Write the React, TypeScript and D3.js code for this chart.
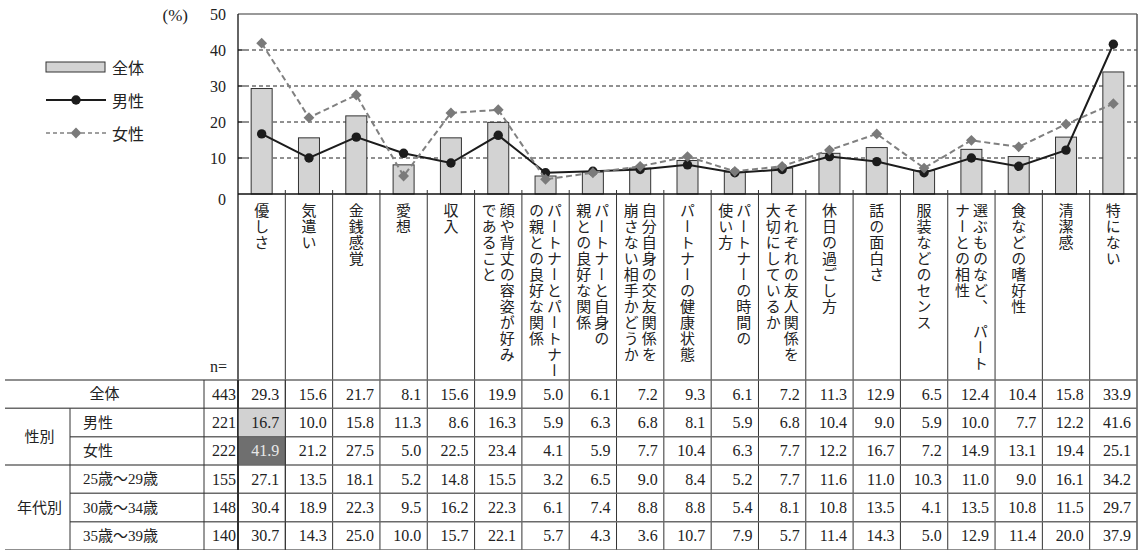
import React from 'react';
import * as d3 from 'd3';

const categories = [
  '優しさ', '気遣い', '金銭感覚', '愛想', '収入', '顔や背丈の容姿が好みであること',
  'パートナーとパートナーの親との良好な関係', 'パートナーと自身の親との良好な関係',
  '自分自身の交友関係を崩さない相手かどうか', 'パートナーの健康状態', 'パートナーの時間の使い方',
  'それぞれの友人関係を大切にしているか', '休日の過ごし方', '話の面白さ', '服装などのセンス',
  '選ぶものなど、パートナーとの相性', '食などの嗜好性', '清潔感', '特にない',
];

const categoryLines: string[][] = [
  ['優しさ'], ['気遣い'], ['金銭感覚'], ['愛想'], ['収入'],
  ['顔や背丈の容姿が好み', 'であること'],
  ['パートナーとパートナー', 'の親との良好な関係'],
  ['パートナーと自身の', '親との良好な関係'],
  ['自分自身の交友関係を', '崩さない相手かどうか'],
  ['パートナーの健康状態'],
  ['パートナーの時間の', '使い方'],
  ['それぞれの友人関係を', '大切にしているか'],
  ['休日の過ごし方'], ['話の面白さ'], ['服装などのセンス'],
  ['選ぶものなど、\u2002パート', 'ナーとの相性'],
  ['食などの嗜好性'], ['清潔感'], ['特にない'],
];

const allValues = [29.3, 15.6, 21.7, 8.1, 15.6, 19.9, 5.0, 6.1, 7.2, 9.3, 6.1, 7.2, 11.3, 12.9, 6.5, 12.4, 10.4, 15.8, 33.9];
const maleValues = [16.7, 10.0, 15.8, 11.3, 8.6, 16.3, 5.9, 6.3, 6.8, 8.1, 5.9, 6.8, 10.4, 9.0, 5.9, 10.0, 7.7, 12.2, 41.6];
const femaleValues = [41.9, 21.2, 27.5, 5.0, 22.5, 23.4, 4.1, 5.9, 7.7, 10.4, 6.3, 7.7, 12.2, 16.7, 7.2, 14.9, 13.1, 19.4, 25.1];
const age2529Values = [27.1, 13.5, 18.1, 5.2, 14.8, 15.5, 3.2, 6.5, 9.0, 8.4, 5.2, 7.7, 11.6, 11.0, 10.3, 11.0, 9.0, 16.1, 34.2];
const age3034Values = [30.4, 18.9, 22.3, 9.5, 16.2, 22.3, 6.1, 7.4, 8.8, 8.8, 5.4, 8.1, 10.8, 13.5, 4.1, 13.5, 10.8, 11.5, 29.7];
const age3539Values = [30.7, 14.3, 25.0, 10.0, 15.7, 22.1, 5.7, 4.3, 3.6, 10.7, 7.9, 5.7, 11.4, 14.3, 5.0, 12.9, 11.4, 20.0, 37.9];

const rowLabels = ['全体', '男性', '女性', '25歳～29歳', '30歳～34歳', '35歳～39歳'];
const rowN = [443, 221, 222, 155, 148, 140];
const groupLabels = [
  { label: '性別', from: 1, to: 2 },
  { label: '年代別', from: 3, to: 5 },
];
const yTicks = [0, 10, 20, 30, 40, 50];
const legendLabels = ['全体', '男性', '女性'];

const W = 1141;
const H = 550;
const plotL = 238;
const plotR = 1137;
const plotT = 14;
const plotB = 194;
const tableT = 380;
const rowH = 28.34;
const tableL = 5;
const groupColR = 70;
const labelColR = 204;

const serif = "'Liberation Serif','Noto Sans CJK JP',serif";
const cjk = "'Noto Sans CJK JP',sans-serif";
const ink = '#222';

export default function App() {
  const x = d3.scaleBand<string>().domain(categories).range([plotL, plotR]).paddingInner(0).paddingOuter(0);
  const y = d3.scaleLinear().domain([0, 50]).range([plotB, plotT]);
  const bw = x.bandwidth();
  const cx = (i: number) => (x(categories[i]) as number) + bw / 2;
  const barW = 21;

  const line = d3.line<number>().x((_, i) => cx(i)).y((d) => y(d));

  const tableRows = [allValues, maleValues, femaleValues, age2529Values, age3034Values, age3539Values];
  const rowTop = (r: number) => tableT + r * rowH;

  const diamond = (px: number, py: number, s: number) =>
    `M${px},${py - s}L${px + s},${py}L${px},${py + s}L${px - s},${py}Z`;

  return (
    <svg width={W} height={H} style={{ position: 'absolute', left: 0, top: 0, background: '#fff' }}>
      <rect x={0} y={0} width={W} height={H} fill="#fff" />

      {/* unit label */}
      <text x={188} y={15} textAnchor="end" dominantBaseline="central" fontFamily={serif} fontSize={17} fill={ink}>(%)</text>

      {/* y-axis tick labels */}
      {yTicks.map((t) => (
        <text key={t} x={226} y={y(t) + (t === 0 ? 5 : 0)} textAnchor="end" dominantBaseline="central"
          fontFamily={serif} fontSize={16} fill={ink}>{t}</text>
      ))}

      {/* gridlines */}
      {yTicks.filter((t) => t > 0 && t < 50).map((t) => (
        <g key={t}>
          <line x1={plotL} x2={plotR} y1={y(t)} y2={y(t)} stroke="#222" strokeWidth={1} strokeDasharray="4,3" />
          <line x1={plotL} x2={plotL + 7} y1={y(t)} y2={y(t)} stroke="#222" strokeWidth={1} />
        </g>
      ))}

      {/* frame top */}
      <line x1={plotL} x2={plotR} y1={plotT} y2={plotT} stroke="#777" strokeWidth={1.5} />

      {/* bars */}
      {allValues.map((v, i) => (
        <rect key={i} x={cx(i) - barW / 2} y={y(v)} width={barW} height={y(0) - y(v)}
          fill="#d3d3d3" stroke="#333" strokeWidth={1} />
      ))}

      {/* male line */}
      <path d={line(maleValues) as string} fill="none" stroke="#1c1c1c" strokeWidth={2} />
      {maleValues.map((v, i) => (
        <circle key={i} cx={cx(i)} cy={y(v)} r={4.7} fill="#1c1c1c" />
      ))}

      {/* female line */}
      <path d={line(femaleValues) as string} fill="none" stroke="#808080" strokeWidth={2} strokeDasharray="6,3.5" />
      {femaleValues.map((v, i) => (
        <path key={i} d={diamond(cx(i), y(v), 5.4)} fill="#7a7a7a" />
      ))}

      {/* baseline */}
      <line x1={plotL} x2={plotR} y1={plotB} y2={plotB} stroke="#111" strokeWidth={1.3} />

      {/* column dividers (ticks + header + table) */}
      {categories.slice(1).map((c) => (
        <line key={c} x1={x(c) as number} x2={x(c) as number} y1={plotB - 4} y2={H} stroke="#333" strokeWidth={1} />
      ))}
      <line x1={plotL} x2={plotL} y1={plotT} y2={H} stroke="#111" strokeWidth={1.3} />
      <line x1={plotR} x2={plotR} y1={plotT} y2={H} stroke="#555" strokeWidth={1.5} />

      {/* category labels (vertical) */}
      {categoryLines.map((lines, i) =>
        lines.map((ln, j) => {
          const off = lines.length === 1 ? 0 : j === 0 ? 9 : -9;
          return (
            <text key={`${i}-${j}`} x={cx(i) + off} y={203} fontFamily={cjk} fontSize={15} fill={ink}
              letterSpacing={1} style={{ writingMode: 'vertical-rl' } as any}>{ln}</text>
          );
        })
      )}

      {/* n= */}
      <text x={227} y={366} textAnchor="end" dominantBaseline="central" fontFamily={serif} fontSize={16} fill={ink}>n=</text>

      {/* table highlight cells */}
      <rect x={x(categories[0]) as number} y={rowTop(1)} width={bw} height={rowH} fill="#d2d2d2" />
      <rect x={x(categories[0]) as number} y={rowTop(2)} width={bw} height={rowH} fill="#6f6f6f" />

      {/* table horizontal lines */}
      {d3.range(0, 7).map((r) => {
        const partial = r === 2 || r === 4 || r === 5;
        return (
          <line key={r} x1={partial ? groupColR : tableL} x2={plotR} y1={rowTop(r)} y2={rowTop(r)}
            stroke="#6a6a6a" strokeWidth={1.5} />
        );
      })}
      <line x1={groupColR} x2={groupColR} y1={rowTop(1)} y2={H} stroke="#333" strokeWidth={1} />
      <line x1={labelColR} x2={labelColR} y1={tableT} y2={H} stroke="#333" strokeWidth={1} />
      {categories.slice(1, 2).map((c) => (
        <line key={c} x1={x(c) as number} x2={x(c) as number} y1={tableT} y2={H} stroke="#333" strokeWidth={1} />
      ))}
      <line x1={plotL} x2={plotL} y1={tableT} y2={H} stroke="#111" strokeWidth={1.3} />

      {/* row labels */}
      <text x={(tableL + labelColR) / 2} y={rowTop(0) + rowH / 2} textAnchor="middle" dominantBaseline="central"
        fontFamily={serif} fontSize={15} fill={ink}>{rowLabels[0]}</text>
      {rowLabels.slice(1).map((lb, k) => (
        <text key={lb} x={83} y={rowTop(k + 1) + rowH / 2} dominantBaseline="central"
          fontFamily={serif} fontSize={15} fill={ink}>{lb}</text>
      ))}
      {groupLabels.map((g) => (
        <text key={g.label} x={(tableL + groupColR) / 2 + 2} y={(rowTop(g.from) + rowTop(g.to + 1)) / 2}
          textAnchor="middle" dominantBaseline="central" fontFamily={serif} fontSize={15} fill={ink}>{g.label}</text>
      ))}

      {/* n values */}
      {rowN.map((n, r) => (
        <text key={r} x={plotL - 2} y={rowTop(r) + rowH / 2} textAnchor="end" dominantBaseline="central"
          fontFamily={serif} fontSize={16} fill={ink}>{n}</text>
      ))}

      {/* table values */}
      {tableRows.map((vals, r) =>
        vals.map((v, i) => (
          <text key={`${r}-${i}`} x={(x(categories[i]) as number) + bw - 6} y={rowTop(r) + rowH / 2}
            textAnchor="end" dominantBaseline="central" fontFamily={serif} fontSize={16}
            fill={r === 2 && i === 0 ? '#e8e8e8' : ink}>{v.toFixed(1)}</text>
        ))
      )}

      {/* legend */}
      <rect x={46} y={62} width={59} height={10} fill="#d3d3d3" stroke="#333" strokeWidth={1} />
      <text x={112} y={67} dominantBaseline="central" fontFamily={cjk} fontSize={16} fill={ink}>{legendLabels[0]}</text>
      <line x1={46} x2={106} y1={100} y2={100} stroke="#1c1c1c" strokeWidth={2} />
      <circle cx={76} cy={100} r={4.7} fill="#1c1c1c" />
      <text x={112} y={100} dominantBaseline="central" fontFamily={cjk} fontSize={16} fill={ink}>{legendLabels[1]}</text>
      <line x1={46} x2={106} y1={133} y2={133} stroke="#808080" strokeWidth={1.5} strokeDasharray="4,3" />
      <path d={diamond(76, 133, 5.4)} fill="#7a7a7a" />
      <text x={112} y={133} dominantBaseline="central" fontFamily={cjk} fontSize={16} fill={ink}>{legendLabels[2]}</text>
    </svg>
  );
}
